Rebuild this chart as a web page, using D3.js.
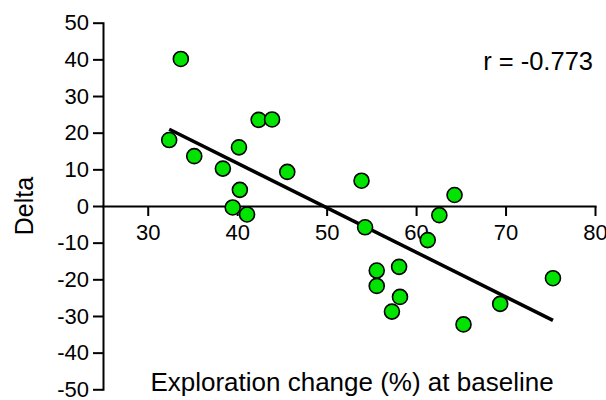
<!DOCTYPE html>
<html>
<head>
<meta charset="utf-8">
<script src="https://cdn.jsdelivr.net/npm/d3@7"></script>
<style>
  body { margin: 0; background: #fff; }
  svg { display: block; font-family: "Liberation Sans", Arial, sans-serif; }
  .axis path, .axis line { stroke: #000; stroke-width: 2; }
  .axis text { fill: #000; font-size: 22px; }
</style>
</head>
<body>
<div class="chart"></div>
<script>
// exploration change (%) at baseline vs delta
var exploration = [33.7, 32.4, 35.2, 38.4, 40.2, 40.3, 39.5, 41.1, 42.4, 43.9, 45.6, 53.9,
                   54.3, 55.6, 55.6, 58.1, 58.2, 57.3, 61.3, 62.6, 64.3, 65.3, 69.4, 75.3];
var delta = [40.1, 18.0, 13.6, 10.2, 16.0, 4.4, -0.4, -2.3, 23.5, 23.6, 9.3, 6.9,
             -5.8, -17.6, -21.8, -16.6, -24.8, -28.8, -9.3, -2.5, 3.0, -32.3, -26.7, -19.7];
var xTicks = [30, 40, 50, 60, 70, 80];
var yTicks = [-50, -40, -30, -20, -10, 0, 10, 20, 30, 40, 50];
var rLabel = 'r = -0.773';

var W = 606, H = 400;
var margin = {top: 22.7, right: 11, bottom: 10.7, left: 103};

var svg = d3.select('.chart')
	.append('svg')
	.attr('width', W)
	.attr('height', H);

var x = d3.scaleLinear().domain([25, 80]).range([margin.left, W - margin.right]);
var y = d3.scaleLinear().domain([-50, 50]).range([H - margin.bottom, margin.top]);

var points = exploration.map(function(v, i) { return {x: v, y: delta[i]}; });

// least squares fit
var mx = d3.mean(points, function(d) { return d.x; });
var my = d3.mean(points, function(d) { return d.y; });
var sxy = d3.sum(points, function(d) { return (d.x - mx) * (d.y - my); });
var sxx = d3.sum(points, function(d) { return (d.x - mx) * (d.x - mx); });
var slope = sxy / sxx, icpt = my - slope * mx;
var ext = d3.extent(exploration);

// plain hyphen for negatives, like the original
var fmt = function(d) { return String(d); };

svg.append('g')
	.attr('class', 'axis')
	.attr('transform', 'translate(' + margin.left + ',0)')
	.call(d3.axisLeft(y).tickValues(yTicks).tickFormat(fmt).tickSize(10).tickSizeOuter(0).tickPadding(4));

svg.append('g')
	.attr('class', 'axis')
	.attr('transform', 'translate(0,' + y(0) + ')')
	.call(d3.axisBottom(x).tickValues(xTicks).tickFormat(fmt).tickSize(10).tickSizeOuter(0).tickPadding(8));

svg.selectAll('.axis .domain').attr('stroke-linecap', 'square');

svg.append('line')
	.attr('x1', x(ext[0])).attr('y1', y(slope * ext[0] + icpt))
	.attr('x2', x(ext[1])).attr('y2', y(slope * ext[1] + icpt))
	.style('stroke', '#000')
	.style('stroke-width', 3.5);

svg.selectAll('.dot')
	.data(points)
	.enter()
	.append('circle')
	.attr('class', 'dot')
	.attr('cx', function(d) { return x(d.x); })
	.attr('cy', function(d) { return y(d.y); })
	.attr('r', 7.5)
	.style('fill', '#00e400')
	.style('stroke', '#000')
	.style('stroke-width', 1.6);

svg.append('text')
	.attr('x', 593).attr('y', 70)
	.attr('text-anchor', 'end')
	.style('font-size', '25.5px')
	.text(rLabel);

svg.append('text')
	.attr('x', 352).attr('y', 391)
	.attr('text-anchor', 'middle')
	.style('font-size', '26px')
	.text('Exploration change (%) at baseline');

svg.append('text')
	.attr('transform', 'translate(33,' + y(0) + ') rotate(-90)')
	.attr('text-anchor', 'middle')
	.style('font-size', '25px')
	.text('Delta');
</script>
</body>
</html>
